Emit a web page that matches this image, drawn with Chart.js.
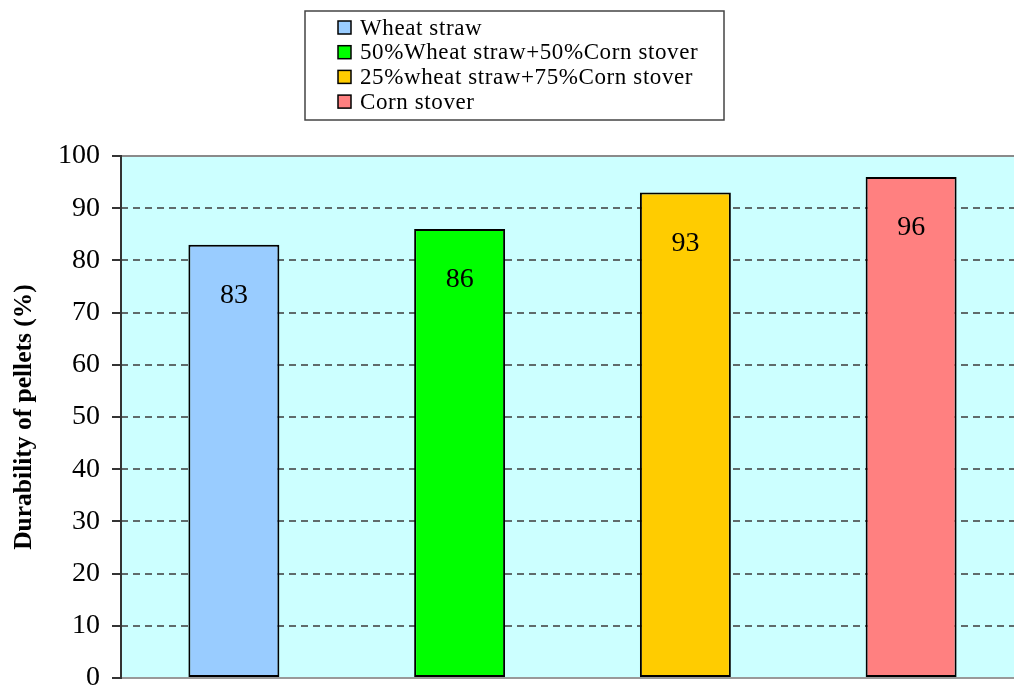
<!DOCTYPE html>
<html>
<head>
<meta charset="utf-8">
<script src="https://cdn.jsdelivr.net/npm/chart.js@4"></script>
<style>
  html, body { margin: 0; padding: 0; background: #fff; overflow: hidden; }
  #wrap { width: 1024px; height: 688px; }
</style>
</head>
<body>
<div id="wrap"><canvas id="c" width="1024" height="688"></canvas></div>
<script>
// Pellet durability by feedstock blend
const categories = [
  'Wheat straw',
  '50%Wheat straw+50%Corn stover',
  '25%wheat straw+75%Corn stover',
  'Corn stover'
];
const durability = [83, 86, 93, 96];
const barColors = ['#99CCFF', '#00FF00', '#FFCC00', '#FF8080'];
const yTicks = [0, 10, 20, 30, 40, 50, 60, 70, 80, 90, 100];
const yTitle = 'Durability of pellets (%)';

const SERIF = '"Liberation Serif", "Times New Roman", serif';

// Plot background and frame lines
const plotFrame = {
  id: 'plotFrame',
  beforeDraw(chart) {
    const { ctx, chartArea: a } = chart;
    ctx.save();
    ctx.fillStyle = '#CCFFFF';
    ctx.fillRect(a.left, a.top, a.right - a.left, a.bottom - a.top);
    ctx.restore();
  },
  beforeDatasetsDraw(chart) {
    const { ctx, chartArea: a } = chart;
    ctx.save();
    ctx.strokeStyle = '#999';
    ctx.lineWidth = 2;
    ctx.beginPath();
    ctx.moveTo(a.left, a.bottom); ctx.lineTo(a.right, a.bottom);
    ctx.stroke();
    ctx.restore();
  },
  afterDatasetsDraw(chart) {
    const { ctx, chartArea: a } = chart;
    ctx.save();
    ctx.strokeStyle = '#8a8a8a';
    ctx.lineWidth = 2;
    ctx.beginPath();
    ctx.moveTo(a.left, a.top); ctx.lineTo(a.right, a.top);
    ctx.stroke();
    ctx.strokeStyle = '#333';
    ctx.beginPath();
    ctx.moveTo(a.left, a.top - 1); ctx.lineTo(a.left, a.bottom + 1);
    ctx.stroke();
    ctx.restore();
  }
};

// Value labels inside the bars
const valueLabels = {
  id: 'valueLabels',
  afterDatasetsDraw(chart) {
    const { ctx } = chart;
    const meta = chart.getDatasetMeta(0);
    ctx.save();
    ctx.font = '28px ' + SERIF;
    ctx.fillStyle = '#000';
    ctx.textAlign = 'center';
    ctx.textBaseline = 'middle';
    meta.data.forEach((bar, i) => {
      ctx.fillText(String(durability[i]), bar.x, bar.y + 51);
    });
    ctx.restore();
  }
};

// Boxed legend listing the blends
const boxLegend = {
  id: 'boxLegend',
  afterDraw(chart) {
    const { ctx } = chart;
    const bx = 305, by = 11, bw = 419, bh = 109;
    ctx.save();
    ctx.fillStyle = '#fff';
    ctx.fillRect(bx, by, bw, bh);
    ctx.strokeStyle = '#444';
    ctx.lineWidth = 1.5;
    ctx.strokeRect(bx, by, bw, bh);
    ctx.font = '23px ' + SERIF;
    ctx.letterSpacing = '0.6px';
    ctx.textBaseline = 'middle';
    ctx.textAlign = 'left';
    categories.forEach((name, i) => {
      const cy = 27.5 + i * 24.7;
      ctx.fillStyle = barColors[i];
      ctx.fillRect(338, cy - 6.5, 13, 13);
      ctx.strokeStyle = '#000';
      ctx.lineWidth = 1.5;
      ctx.strokeRect(338, cy - 6.5, 13, 13);
      ctx.fillStyle = '#000';
      ctx.fillText(name, 360, cy + 1);
    });
    ctx.restore();
  }
};

new Chart(document.getElementById('c'), {
  type: 'bar',
  data: {
    labels: categories,
    datasets: [{
      data: durability,
      backgroundColor: barColors,
      borderColor: '#000',
      borderWidth: 2,
      borderSkipped: false,
      barPercentage: 0.403,
      categoryPercentage: 1
    }]
  },
  options: {
    responsive: false,
    animation: false,
    layout: { padding: { top: 156, bottom: 10, left: 0, right: 0 } },
    plugins: {
      legend: { display: false },
      tooltip: { enabled: false }
    },
    scales: {
      x: {
        display: false,
        offset: true
      },
      y: {
        min: 0,
        max: 100,
        afterFit(scale) {
          scale.width = 121;
          scale.paddingTop = 0;
          scale.paddingBottom = 0;
        },
        afterBuildTicks(scale) { scale.ticks = yTicks.map(v => ({ value: v })); },
        ticks: {
          font: { family: SERIF, size: 28 },
          color: '#000',
          padding: 12
        },
        grid: {
          drawOnChartArea: true,
          tickLength: 9,
          tickColor: '#333',
          tickWidth: 2,
          lineWidth: 2,
          color: (c) => (c.tick && (c.tick.value === 0 || c.tick.value === 100)) ? 'rgba(0,0,0,0)' : '#5f6b6b'
        },
        border: { display: false, dash: [7, 5] },
        title: {
          display: true,
          text: yTitle,
          font: { family: SERIF, size: 25.5, weight: 'bold' },
          color: '#000',
          padding: { top: 9, bottom: 0 }
        }
      }
    }
  },
  plugins: [plotFrame, valueLabels, boxLegend]
});
</script>
</body>
</html>
